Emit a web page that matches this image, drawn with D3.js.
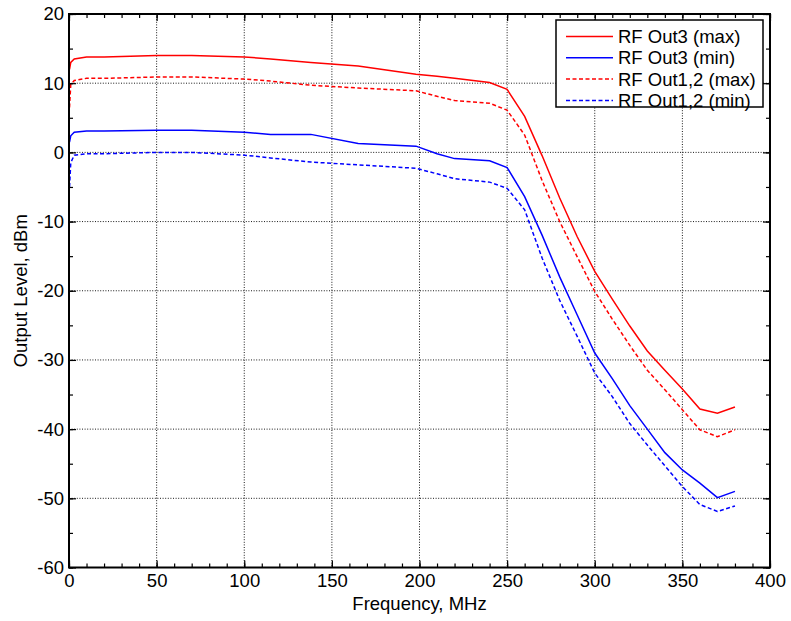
<!DOCTYPE html>
<html>
<head>
<meta charset="utf-8">
<script src="https://cdn.jsdelivr.net/npm/d3@7"></script>
<style>
    body { margin: 0; background: #fff; }
    svg { display: block; font-family: "Liberation Sans", Arial, sans-serif; }
    .grid line { stroke: #000; stroke-opacity: 0.9; stroke-dasharray: 1,1.6; }
</style>
</head>
<body>
<div id="chart"></div>
<script>
// frequency points, MHz
var freq = [0.3, 1, 3, 10, 20, 50, 70, 100, 115, 138, 165, 198, 210, 220, 240, 250,
    260, 270, 280, 290, 300, 310, 320, 330, 340, 350, 360, 370, 380];

// output level, dBm
var out3Max = [12.0, 13.0, 13.5, 13.8, 13.8, 14.0, 14.0, 13.8, 13.5, 13.0, 12.5, 11.3, 11.0, 10.7, 10.1, 9.1,
    5.2, -0.5, -6.6, -12.2, -17.2, -21.2, -25.1, -28.7, -31.5, -34.2, -37.1, -37.7, -36.8];
var out3Min = [1.5, 2.4, 2.9, 3.1, 3.1, 3.2, 3.2, 2.9, 2.6, 2.6, 1.3, 0.9, -0.2, -0.9, -1.2, -2.2,
    -6.4, -12.0, -18.0, -23.5, -29.0, -32.7, -36.6, -40.0, -43.4, -45.9, -47.8, -49.9, -49.0];
var out12Max = [6.5, 9.8, 10.4, 10.7, 10.7, 10.9, 10.9, 10.6, 10.3, 9.7, 9.3, 8.9, 8.1, 7.5, 7.1, 6.1,
    2.5, -4.1, -10.0, -15.1, -20.1, -24.1, -27.9, -31.5, -34.3, -37.2, -40.1, -41.1, -40.1];
var out12Min = [-5.0, -1.5, -0.4, -0.2, -0.2, 0.0, 0.0, -0.4, -0.8, -1.4, -1.8, -2.3, -3.1, -3.8, -4.3, -5.2,
    -8.3, -15.3, -21.4, -26.6, -31.9, -35.3, -39.2, -42.3, -45.3, -48.3, -50.9, -51.9, -51.1];

var seriesNames = ["RF Out3 (max)", "RF Out3 (min)", "RF Out1,2 (max)", "RF Out1,2 (min)"];
var xTicks = [0, 50, 100, 150, 200, 250, 300, 350, 400];
var yTicks = [-60, -50, -40, -30, -20, -10, 0, 10, 20];

(function () {
    var width = 791, height = 621;
    var margin = {top: 14, right: 21, bottom: 53.5, left: 69};
    var w = width - margin.left - margin.right;
    var h = height - margin.top - margin.bottom;

    var series = [
        {name: seriesNames[0], values: out3Max, color: "#ff0000", dash: null},
        {name: seriesNames[1], values: out3Min, color: "#0000ff", dash: null},
        {name: seriesNames[2], values: out12Max, color: "#ff0000", dash: "4,2.5"},
        {name: seriesNames[3], values: out12Min, color: "#0000ff", dash: "4,2.5"}
    ];

    var x = d3.scaleLinear().domain([0, 400]).range([0, w]);
    var y = d3.scaleLinear().domain([-60, 20]).range([h, 0]);

    var svg = d3.select("#chart").append("svg")
        .attr("width", width)
        .attr("height", height);

    var g = svg.append("g")
        .attr("transform", "translate(" + margin.left + "," + margin.top + ")");

    // dotted grid at the major ticks
    g.append("g").attr("class", "grid")
        .selectAll("line").data(xTicks.slice(1, -1)).enter().append("line")
        .attr("x1", x).attr("x2", x).attr("y1", 0).attr("y2", h);
    g.append("g").attr("class", "grid")
        .selectAll("line").data(yTicks.slice(1, -1)).enter().append("line")
        .attr("y1", y).attr("y2", y).attr("x1", 0).attr("x2", w);

    // curves
    var line = d3.line()
        .x(function (d) { return x(d[0]); })
        .y(function (d) { return y(d[1]); });

    series.forEach(function (s) {
        g.append("path")
            .datum(freq.map(function (f, i) { return [f, s.values[i]]; }))
            .attr("fill", "none")
            .attr("stroke", s.color)
            .attr("stroke-width", 1.5)
            .attr("stroke-dasharray", s.dash)
            .attr("d", line);
    });

    // axes: ticks point inward, on all four sides
    var minorX = d3.range(0, 401, 10), minorY = d3.range(-60, 21, 5);
    var addAxis = function (axis, scale, ticks, size, transform, labels) {
        var a = axis(scale).tickValues(ticks).tickSizeInner(-size).tickSizeOuter(0).tickPadding(size + 6);
        // plain hyphen for negatives, like the original
        a.tickFormat(labels ? function (d) { return String(d); } : "");
        var el = g.append("g").attr("transform", transform).call(a);
        el.select(".domain").remove();
        el.selectAll(".tick line").attr("stroke", "#000").attr("stroke-width", 1.2);
        el.selectAll("text").attr("fill", "#000")
            .style("font-family", "'Liberation Sans', Arial, sans-serif")
            .style("font-size", "18.5px");
        return el;
    };

    addAxis(d3.axisBottom, x, minorX, 4, "translate(0," + h + ")", false);
    addAxis(d3.axisTop, x, minorX, 4, "translate(0,0)", false);
    addAxis(d3.axisLeft, y, minorY, 4, "translate(0,0)", false);
    addAxis(d3.axisRight, y, minorY, 4, "translate(" + w + ",0)", false);

    var xa = addAxis(d3.axisBottom, x, xTicks, 7, "translate(0," + h + ")", true);
    xa.selectAll("text").attr("dy", "0.72em").attr("y", 6);
    addAxis(d3.axisTop, x, xTicks, 7, "translate(0,0)", false);
    var ya = addAxis(d3.axisLeft, y, yTicks, 7, "translate(0,0)", true);
    ya.selectAll("text").attr("x", -5);
    addAxis(d3.axisRight, y, yTicks, 7, "translate(" + w + ",0)", false);

    // frame
    g.append("rect")
        .attr("width", w).attr("height", h)
        .attr("fill", "none").attr("stroke", "#000").attr("stroke-width", 2);

    // axis titles
    svg.append("text")
        .attr("x", margin.left + w / 2).attr("y", 610)
        .attr("text-anchor", "middle")
        .style("font-size", "18.5px")
        .text("Frequency, MHz");
    svg.append("text")
        .attr("transform", "translate(27," + (margin.top + h / 2) + ") rotate(-90)")
        .attr("text-anchor", "middle")
        .style("font-size", "18.5px")
        .text("Output Level, dBm");

    // legend
    var legend = svg.append("g").attr("transform", "translate(556,20)");
    legend.append("rect")
        .attr("width", 207).attr("height", 87)
        .attr("fill", "#fff").attr("stroke", "#000").attr("stroke-width", 1.5);
    var rows = legend.selectAll(".row").data(series).enter().append("g")
        .attr("class", "row")
        .attr("transform", function (d, i) { return "translate(0," + (16.5 + i * 21.3) + ")"; });
    rows.append("line")
        .attr("x1", 10).attr("x2", 57)
        .attr("stroke", function (d) { return d.color; })
        .attr("stroke-width", 1.5)
        .attr("stroke-dasharray", function (d) { return d.dash; });
    rows.append("text")
        .attr("x", 62).attr("dy", "0.35em")
        .style("font-size", "18.5px")
        .text(function (d) { return d.name; });
})();
</script>
</body>
</html>
